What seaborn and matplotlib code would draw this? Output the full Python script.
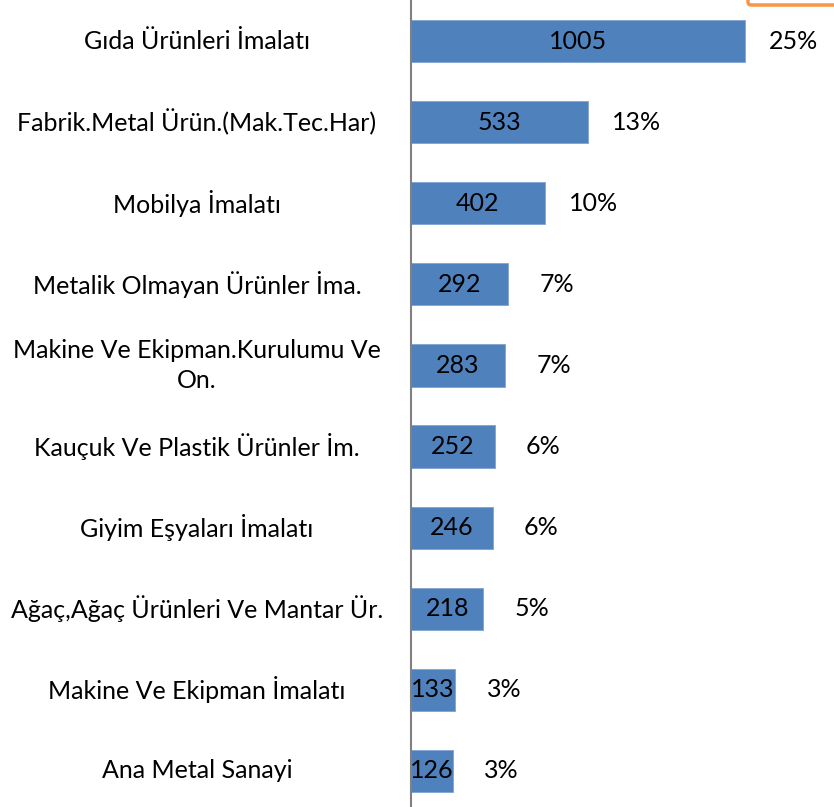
import matplotlib
matplotlib.use("Agg")
import matplotlib.pyplot as plt
from matplotlib.patches import FancyBboxPatch
import seaborn as sns
import pandas as pd

# --- data ---
categories = [
    "Gıda Ürünleri İmalatı",
    "Fabrik.Metal Ürün.(Mak.Tec.Har)",
    "Mobilya İmalatı",
    "Metalik Olmayan Ürünler İma.",
    "Makine Ve Ekipman.Kurulumu Ve\nOn.",
    "Kauçuk Ve Plastik Ürünler İm.",
    "Giyim Eşyaları İmalatı",
    "Ağaç,Ağaç Ürünleri Ve Mantar Ür.",
    "Makine Ve Ekipman İmalatı",
    "Ana Metal Sanayi",
]
counts = [1005, 533, 402, 292, 283, 252, 246, 218, 133, 126]
percents = ["25%", "13%", "10%", "7%", "7%", "6%", "6%", "5%", "3%", "3%"]

df = pd.DataFrame({"cat": categories, "n": counts})

sns.set_theme(style="white")
plt.rcParams["font.family"] = ["Lato", "DejaVu Sans"]

W, H = 834, 807
FS = 18
fig = plt.figure(figsize=(W / 100, H / 100), dpi=100)
ax = fig.add_axes([411 / W, 0, 1 - 411 / W, 1])

sns.barplot(data=df, x="n", y="cat", orient="h", color="#4F81BD",
            saturation=1, width=0.52, edgecolor="#7FA3D0", linewidth=0.6, ax=ax)

ax.set_xlim(0, 1273)
ax.set_ylim(9.445, -0.506)

# value labels inside bars, percentage labels to the right
for i, (v, p) in enumerate(zip(counts, percents)):
    ax.text(v / 2, i, str(v), ha="center", va="center", fontsize=FS, color="black")
    ax.annotate(p, (v, i), xytext=(35, 0), textcoords="offset points",
                ha="center", va="center", fontsize=FS, color="black")

# category labels on the left, centred in the label area
ax.set_yticks([])
ax.set_xticks([])
ax.set_xlabel("")
ax.set_ylabel("")
for i, c in enumerate(categories):
    ax.text(-214 / 0.3323, i, c, ha="center", va="center", fontsize=FS,
            color="black", linespacing=1.35, clip_on=False)

for s in ["top", "right", "bottom"]:
    ax.spines[s].set_visible(False)
ax.spines["left"].set_color("#808080")
ax.spines["left"].set_linewidth(1.5)

# clipped orange box at top right (legend remnant)
fig.patches.append(FancyBboxPatch((748 / W, (H - 5) / H), 0.2, 0.05,
                                  boxstyle="round,pad=0,rounding_size=0.004",
                                  transform=fig.transFigure, facecolor="white",
                                  edgecolor="#F79646", linewidth=2.5))

fig.savefig("out.png", dpi=100, facecolor="white")
